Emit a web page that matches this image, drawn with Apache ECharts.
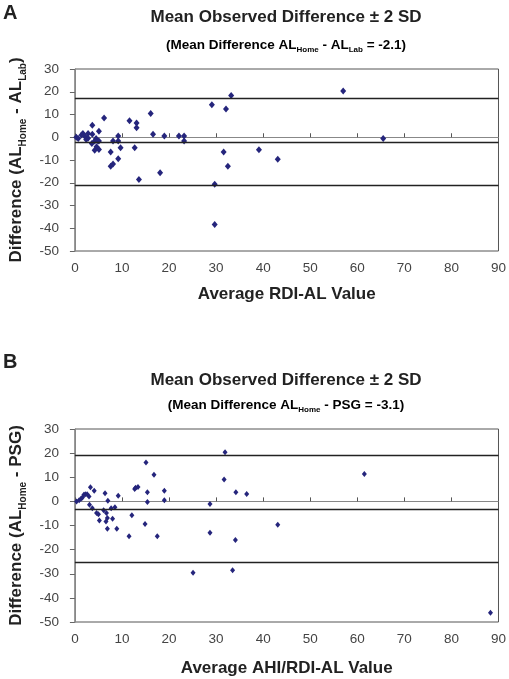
<!DOCTYPE html>
<html>
<head>
<meta charset="utf-8">
<script src="https://cdn.jsdelivr.net/npm/echarts@6/dist/echarts.min.js"></script>
<style>html,body{margin:0;padding:0;background:#fff}#c{width:509px;height:679px}</style>
</head>
<body>
<div id="c"></div>
<script>
// Panel A: Average RDI-AL vs Difference (AL_Home - AL_Lab)
const avgA = [0.3,0.7,1.4,1.7,2.2,2.4,2.8,2.8,3.7,3.7,3.6,4.2,4.5,4.9,5.1,5.1,4.2,4.6,5.1,6.2,7.6,7.6,8.1,8.1,9.2,9.2,9.2,9.7,11.6,12.7,13.1,13.1,13.6,16.1,16.6,18.1,19.0,22.1,23.2,23.2,29.1,29.7,29.7,31.6,32.1,32.5,33.2,39.1,43.1,57.0,65.5];
const diffA = [0.0,-0.6,1.0,1.6,0.2,-1.0,1.6,-0.4,5.3,1.3,-2.8,-1.7,-0.6,-1.7,2.6,-1.7,-5.7,-4.2,-5.4,8.5,-6.5,-12.7,-11.8,-1.7,0.5,-1.7,-9.4,-4.6,7.3,-4.6,6.3,4.2,-18.6,10.4,1.3,-15.6,0.5,0.5,0.5,-1.7,14.3,-20.7,-38.4,-6.5,12.4,-12.7,18.4,-5.5,-9.7,20.3,-0.6];
const limitsA = [17.1, -2.1, -21.3]; // +2SD, mean, -2SD

// Panel B: Average AHI/RDI-AL vs Difference (AL_Home - PSG)
const avgB = [0.35,0.9,1.3,1.6,1.9,2.2,2.6,3.0,3.3,3.1,3.7,4.1,4.6,5.0,5.2,6.1,6.4,6.6,6.7,6.9,7.0,6.9,7.7,8.0,8.5,8.9,9.2,11.5,12.1,12.7,12.9,13.4,14.9,15.1,15.4,15.4,16.8,17.5,19.0,19.0,25.1,28.7,28.7,31.9,31.7,33.5,34.1,34.2,36.5,43.1,61.5,88.3];
const diffB = [0.0,0.5,1.1,1.6,2.7,3.0,3.0,2.0,5.9,-1.4,-2.8,4.4,-4.8,-5.3,-7.9,-3.7,3.4,-8.3,-4.8,-6.9,0.3,-11.3,-2.8,-7.2,-2.4,-11.3,2.3,-14.5,-5.8,5.1,5.6,6.0,-9.4,16.1,3.8,-0.3,11.0,-14.5,4.4,0.5,-29.6,-1.1,-13.0,20.4,9.1,-28.5,-16.0,3.8,3.1,-9.7,11.3,-46.2];
const limitsB = [19.0, -3.1, -25.2];

const xTicks = [0,10,20,30,40,50,60,70,80,90];
const yTicks = [-50,-40,-30,-20,-10,0,10,20,30];

const xNameA = 'Average RDI-AL Value';
const xNameB = 'Average AHI/RDI-AL Value';
const panelLabels = ['A', 'B'];
const mainTitle = 'Mean Observed Difference \u00b1 2 SD';

const FONT = 'Liberation Sans, Arial, sans-serif';
const DOT = '#25257c';

const chart = echarts.init(document.getElementById('c'), null, {renderer: 'canvas'});

function pair(xs, ys) { return xs.map((x, i) => [x, ys[i]]); }

const richName = {
  b: {fontFamily: FONT, fontWeight: 'bold', fontSize: 17, color: '#222', lineHeight: 24, verticalAlign: 'middle'},
  s: {fontFamily: FONT, fontWeight: 'bold', fontSize: 10, color: '#222', lineHeight: 12, verticalAlign: 'bottom'}
};
const richSub = {
  b: {fontFamily: FONT, fontWeight: 'bold', fontSize: 13.5, color: '#222', lineHeight: 18, verticalAlign: 'middle'},
  s: {fontFamily: FONT, fontWeight: 'bold', fontSize: 8, color: '#222', lineHeight: 9, verticalAlign: 'bottom'}
};

function xAxisCfg(idx, name, gap) {
  return {
    gridIndex: idx, type: 'value', min: xTicks[0], max: xTicks[xTicks.length - 1], interval: 10,
    name: name, nameLocation: 'middle', nameGap: gap,
    nameTextStyle: {fontFamily: FONT, fontWeight: 'bold', fontSize: 17, color: '#222'},
    axisLine: {show: true, lineStyle: {color: '#888', width: 1}},
    axisTick: {show: true, inside: true, length: 4, lineStyle: {color: '#555'}},
    axisLabel: {fontFamily: FONT, fontSize: 13.5, color: '#444', margin: 10},
    splitLine: {show: false}
  };
}
function yAxisCfg(idx, name) {
  return {
    gridIndex: idx, type: 'value', min: yTicks[0], max: yTicks[yTicks.length - 1], interval: 10,
    name: name, nameLocation: 'middle', nameRotate: 90, nameGap: 44,
    nameTextStyle: {rich: richName},
    axisLine: {show: true, lineStyle: {color: '#888', width: 1}},
    axisTick: {show: true, inside: false, length: 5, lineStyle: {color: '#666'}},
    axisLabel: {fontFamily: FONT, fontSize: 13.5, color: '#444', margin: 16},
    splitLine: {show: false}
  };
}
function scatterSeries(idx, xs, ys, limits, size) {
  return {
    type: 'scatter', xAxisIndex: idx, yAxisIndex: idx,
    data: pair(xs, ys), symbol: 'diamond', symbolSize: size,
    itemStyle: {color: DOT, opacity: 1}, silent: true,
    markLine: {
      silent: true, symbol: 'none', animation: false,
      label: {show: false},
      lineStyle: {color: '#222', width: 1.4, type: 'solid'},
      data: limits.map(v => ({yAxis: v}))
    }
  };
}

chart.setOption({
  animation: false,
  backgroundColor: '#fff',
  grid: [
    {left: 68, right: 7, top: 69, height: 182, show: true, borderColor: '#555', borderWidth: 1, backgroundColor: 'transparent'},
    {left: 68, right: 7, top: 429, height: 193, show: true, borderColor: '#555', borderWidth: 1, backgroundColor: 'transparent'}
  ],
  xAxis: [xAxisCfg(0, xNameA, 35), xAxisCfg(1, xNameB, 38)],
  yAxis: [
    yAxisCfg(0, '{b|Difference (AL}{s|Home}{b| - AL}{s|Lab}{b|)}'),
    yAxisCfg(1, '{b|Difference (AL}{s|Home}{b| - PSG)}')
  ],
  series: [scatterSeries(0, avgA, diffA, limitsA, [6, 7]), scatterSeries(1, avgB, diffB, limitsB, [5, 6])],
  graphic: [
    {type: 'text', left: 3, top: 3, style: {text: panelLabels[0], font: 'bold 20px ' + FONT, fill: '#222'}},
    {type: 'text', left: 3, top: 352, style: {text: panelLabels[1], font: 'bold 20px ' + FONT, fill: '#222'}},
    {type: 'text', x: 286, y: 17, style: {text: mainTitle, font: 'bold 17px ' + FONT, fill: '#222', align: 'center', verticalAlign: 'middle'}},
    {type: 'text', x: 286, y: 45, style: {text: '{b|(Mean Difference AL}{s|Home}{b| - AL}{s|Lab}{b| = -2.1)}', rich: richSub, align: 'center', verticalAlign: 'middle'}},
    {type: 'text', x: 286, y: 380, style: {text: mainTitle, font: 'bold 17px ' + FONT, fill: '#222', align: 'center', verticalAlign: 'middle'}},
    {type: 'text', x: 286, y: 405, style: {text: '{b|(Mean Difference AL}{s|Home}{b| - PSG = -3.1)}', rich: richSub, align: 'center', verticalAlign: 'middle'}}
  ]
});
</script>
</body>
</html>
